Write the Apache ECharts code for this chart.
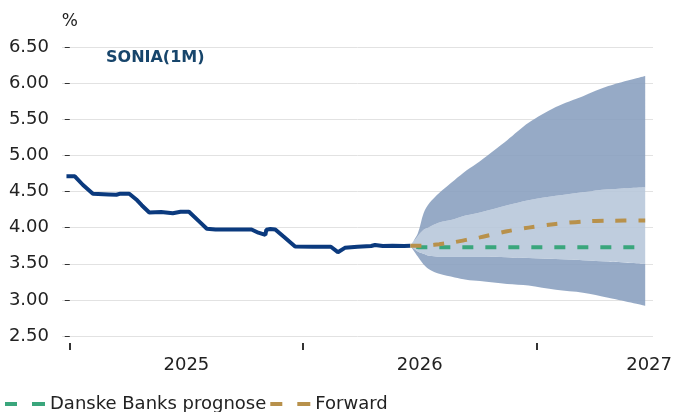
<!DOCTYPE html>
<html>
<head>
<meta charset="utf-8">
<script src="https://cdn.jsdelivr.net/npm/echarts@6/dist/echarts.min.js"></script>
<style>
  html, body { margin: 0; padding: 0; background: #fff; }
  #chart { width: 675px; height: 412px; }
</style>
</head>
<body>
<div id="chart"></div>
<script>
// x = måneder efter 1. jan 2025
var histMonths = [-0.17, 0.26, 0.68, 1.19, 2.0, 2.4, 2.6, 3.06, 3.42, 3.7, 4.09, 4.7, 5.3, 5.7, 6.13, 6.64, 7.05, 7.5, 9.35, 9.7, 10.06, 10.11, 10.32, 10.57, 10.98, 11.59, 12.5, 13.43, 13.79, 14.15, 14.8, 15.5, 15.7, 16.1, 16.6, 17.2, 17.52];
var histValues = [4.71, 4.71, 4.59, 4.47, 4.46, 4.455, 4.47, 4.47, 4.39, 4.31, 4.21, 4.215, 4.20, 4.22, 4.22, 4.09, 3.985, 3.975, 3.975, 3.93, 3.90, 3.97, 3.98, 3.975, 3.88, 3.74, 3.735, 3.735, 3.66, 3.72, 3.735, 3.745, 3.76, 3.745, 3.75, 3.745, 3.75];

// prognose + usikkerhedsbånd
var fcMonths = [17.52, 17.9, 18.2, 18.5, 19.0, 19.8, 20.4, 21.1, 22.5, 23.6, 25.0, 26.4, 27.7, 29.6];
var outerUp  = [3.75, 3.92, 4.20, 4.34, 4.48, 4.66, 4.79, 4.92, 5.21, 5.45, 5.67, 5.82, 5.96, 6.10];
var outerLow = [3.75, 3.60, 3.49, 3.42, 3.36, 3.31, 3.28, 3.26, 3.22, 3.20, 3.14, 3.10, 3.03, 2.92];
var innerUp  = [3.75, 3.88, 3.97, 4.01, 4.07, 4.12, 4.17, 4.21, 4.31, 4.38, 4.44, 4.49, 4.53, 4.56];
var innerLow = [3.75, 3.67, 3.64, 3.61, 3.60, 3.60, 3.60, 3.60, 3.59, 3.58, 3.565, 3.55, 3.53, 3.50];
var prognose = [3.74, 3.73, 3.73, 3.73, 3.73, 3.73, 3.73, 3.73, 3.73, 3.73, 3.73, 3.73, 3.73, 3.73];
var forward  = [3.75, 3.75, 3.75, 3.755, 3.77, 3.80, 3.83, 3.865, 3.95, 4.00, 4.05, 4.085, 4.095, 4.10];

var yearTicks  = [0, 12, 24];
var yearLabels = [6, 18, 29.8];

function pairs(xs, ys) {
  return xs.map(function (x, i) { return [x, ys[i]]; });
}
// y først, så stack lægges på y-dimensionen
function pairsYX(xs, ys) {
  return xs.map(function (x, i) { return [ys[i], x]; });
}
function diff(a, b) {
  return a.map(function (v, i) { return +(v - b[i]).toFixed(4); });
}

var font = 'DejaVu Sans';
var chart = echarts.init(document.getElementById('chart'));

var bandLine = { opacity: 0, width: 0 };
var dashIcon = 'path://M0,0H12V4H0ZM27,0H40V4H27Z';

function band(name, vals, color) {
  var s = {
    name: name, type: 'line', stack: 'band', symbol: 'none', smooth: 0.3,
    encode: { x: 1, y: 0 },
    lineStyle: bandLine, silent: true,
    data: pairsYX(fcMonths, vals)
  };
  if (color) s.areaStyle = { color: color, opacity: 0.87 };
  return s;
}

var option = {
  animation: false,
  textStyle: { fontFamily: font },
  grid: { left: 62, right: 18, top: 47, bottom: 76 },
  title: {
    text: 'SONIA(1M)',
    left: 101, top: 45,
    textStyle: { fontFamily: font, fontSize: 16, fontWeight: 'bold', color: '#17456b' }
  },
  legend: {
    left: 0, top: 390,
    itemGap: 4,
    itemWidth: 40, itemHeight: 4,
    textStyle: { fontFamily: font, fontSize: 18, color: '#222' },
    data: [
      { name: 'Danske Banks prognose', icon: dashIcon },
      { name: 'Forward', icon: dashIcon }
    ]
  },
  xAxis: {
    type: 'value',
    min: -0.4, max: 30,
    offset: 7,
    axisLine: { show: false },
    splitLine: { show: false },
    axisTick: { show: true, customValues: yearTicks, length: 7, lineStyle: { color: '#333', width: 2 } },
    axisLabel: {
      customValues: yearLabels,
      margin: 13,
      fontFamily: font, fontSize: 18, color: '#222',
      formatter: function (v) { return String(2025 + Math.floor(v / 12)); }
    }
  },
  yAxis: {
    type: 'value',
    min: 2.5, max: 6.5, interval: 0.5,
    name: '%',
    nameGap: 17,
    nameTextStyle: { fontFamily: font, fontSize: 17, color: '#222', align: 'center' },
    axisLine: { show: false },
    axisTick: { show: true, length: 5, lineStyle: { color: '#333' } },
    axisLabel: {
      margin: 13, fontFamily: font, fontSize: 18, color: '#222',
      formatter: function (v) { return v.toFixed(2); }
    },
    splitLine: { lineStyle: { color: '#e2e2e2', width: 1 } }
  },
  series: [
    band('base', outerLow, null),
    band('outerLowBand', diff(innerLow, outerLow), '#869dbe'),
    band('innerBand', diff(innerUp, innerLow), '#b5c5d9'),
    band('outerUpBand', diff(outerUp, innerUp), '#869dbe'),
    { name: 'SONIA', type: 'line', symbol: 'none',
      lineStyle: { color: '#0b3a7e', width: 4 },
      data: pairs(histMonths, histValues) },
    { name: 'Danske Banks prognose', type: 'line', symbol: 'none',
      itemStyle: { color: '#3aa67c' },
      lineStyle: { color: '#3aa67c', width: 4, type: [11, 12], dashOffset: -6 },
      data: pairs(fcMonths, prognose) },
    { name: 'Forward', type: 'line', symbol: 'none', smooth: 0.3,
      itemStyle: { color: '#b8914b' },
      lineStyle: { color: '#b8914b', width: 4, type: [11, 12] },
      data: pairs(fcMonths, forward) }
  ]
};
chart.setOption(option);
</script>
</body>
</html>
